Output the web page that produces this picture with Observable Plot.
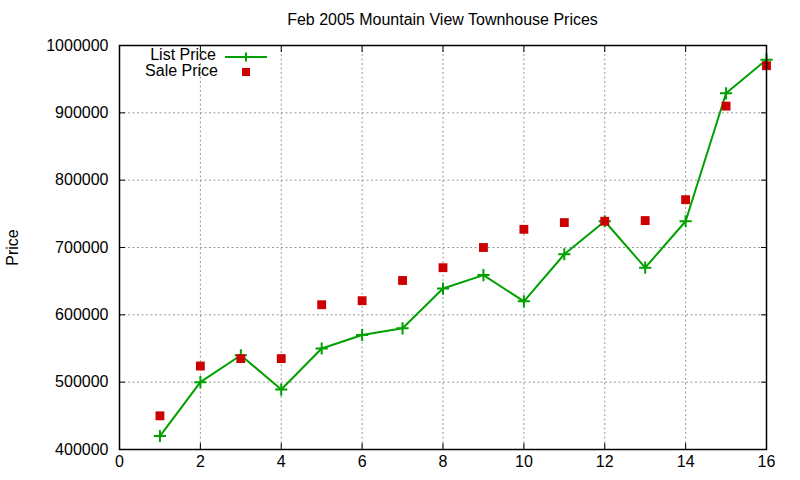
<!DOCTYPE html>
<html>
<head>
<meta charset="utf-8">
<script src="https://cdn.jsdelivr.net/npm/d3@7"></script>
<script src="https://cdn.jsdelivr.net/npm/@observablehq/plot@0.6"></script>
<style>
  body { margin: 0; background: #fff; font-family: "Liberation Sans", Arial, sans-serif; }
  #wrap { position: relative; width: 800px; height: 480px; }
  #title { position: absolute; left: 119px; width: 647px; top: 10px; text-align: center; font-size: 16px; line-height: 20px; color: #000; }
  #chart { position: absolute; left: 0; top: 36px; }
  #legend { position: absolute; left: 119px; top: 45px; }
</style>
</head>
<body>
<div id="wrap">
  <div id="title">Feb 2005 Mountain View Townhouse Prices</div>
  <div id="chart"></div>
  <svg id="legend" width="160" height="40" font-family="Liberation Sans, Arial, sans-serif" font-size="16">
    <text x="97" y="11" text-anchor="end" dominant-baseline="middle" fill="#000">List Price</text>
    <line x1="106" x2="148" y1="12" y2="12" stroke="#00a000" stroke-width="2"/>
    <path d="M127,7.5v9M122.5,12h9" stroke="#00a000" stroke-width="2"/>
    <text x="99" y="27" text-anchor="end" dominant-baseline="middle" fill="#000">Sale Price</text>
    <rect x="123" y="23" width="8" height="8" fill="#cc0000"/>
  </svg>
</div>
<script>
const months = [1, 2, 3, 4, 5, 6, 7, 8, 9, 10, 11, 12, 13, 14, 15, 16];
const listPrice = [420000, 500000, 540000, 489000, 550000, 570000, 580000, 639000, 659000, 620000, 690000, 739000, 670000, 739000, 929000, 979000];
const salePrice = [450000, 524000, 535000, 535000, 615000, 621000, 651000, 670000, 700000, 727000, 737000, 739000, 740000, 771000, 910000, 970000];
const xTicks = [0, 2, 4, 6, 8, 10, 12, 14, 16];
const yTicks = [400000, 500000, 600000, 700000, 800000, 900000, 1000000];

const listData = months.map((m, i) => ({x: m, y: listPrice[i]}));
const saleData = months.map((m, i) => ({x: m, y: salePrice[i]}));

const grid = {stroke: "#999", strokeOpacity: 1, strokeDasharray: "2,2.5", strokeWidth: 1};

const chart = Plot.plot({
  width: 800,
  height: 444,
  marginTop: 9,
  marginBottom: 31,
  marginLeft: 119,
  marginRight: 34,
  style: {fontFamily: "Liberation Sans, Arial, sans-serif", fontSize: "16px", color: "#000", background: "#fff"},
  x: {domain: [0, 16]},
  y: {domain: [400000, 1000000]},
  marks: [
    Plot.gridX(xTicks.slice(1, -1), grid),
    Plot.gridY(yTicks.slice(1, -1), grid),
    Plot.axisX(xTicks, {tickSize: 0, tickPadding: 6, fontSize: 16, label: null}),
    Plot.axisX(xTicks.slice(1, -1), {tickSize: -6, tickFormat: () => "", label: null}),
    Plot.axisX(xTicks.slice(1, -1), {anchor: "top", tickSize: -6, tickFormat: () => "", label: null}),
    Plot.axisY(yTicks, {tickSize: 0, tickPadding: 11, fontSize: 16, tickFormat: d3.format("d"),
      label: "Price", labelAnchor: "center", labelArrow: "none", labelOffset: 113}),
    Plot.axisY(yTicks.slice(1, -1), {tickSize: -6, tickFormat: () => "", label: null}),
    Plot.axisY(yTicks.slice(1, -1), {anchor: "right", tickSize: -6, tickFormat: () => "", label: null}),
    Plot.line(listData, {x: "x", y: "y", stroke: "#00a000", strokeWidth: 2}),
    Plot.dot(listData, {x: "x", y: "y", symbol: "plus", stroke: "#00a000", strokeWidth: 2, r: 4}),
    Plot.dot(saleData, {x: "x", y: "y", symbol: "square", fill: "#cc0000", stroke: "none", r: 5}),
    Plot.frame({stroke: "#000", strokeWidth: 1.5})
  ]
});
document.getElementById("chart").appendChild(chart);
</script>
</body>
</html>
